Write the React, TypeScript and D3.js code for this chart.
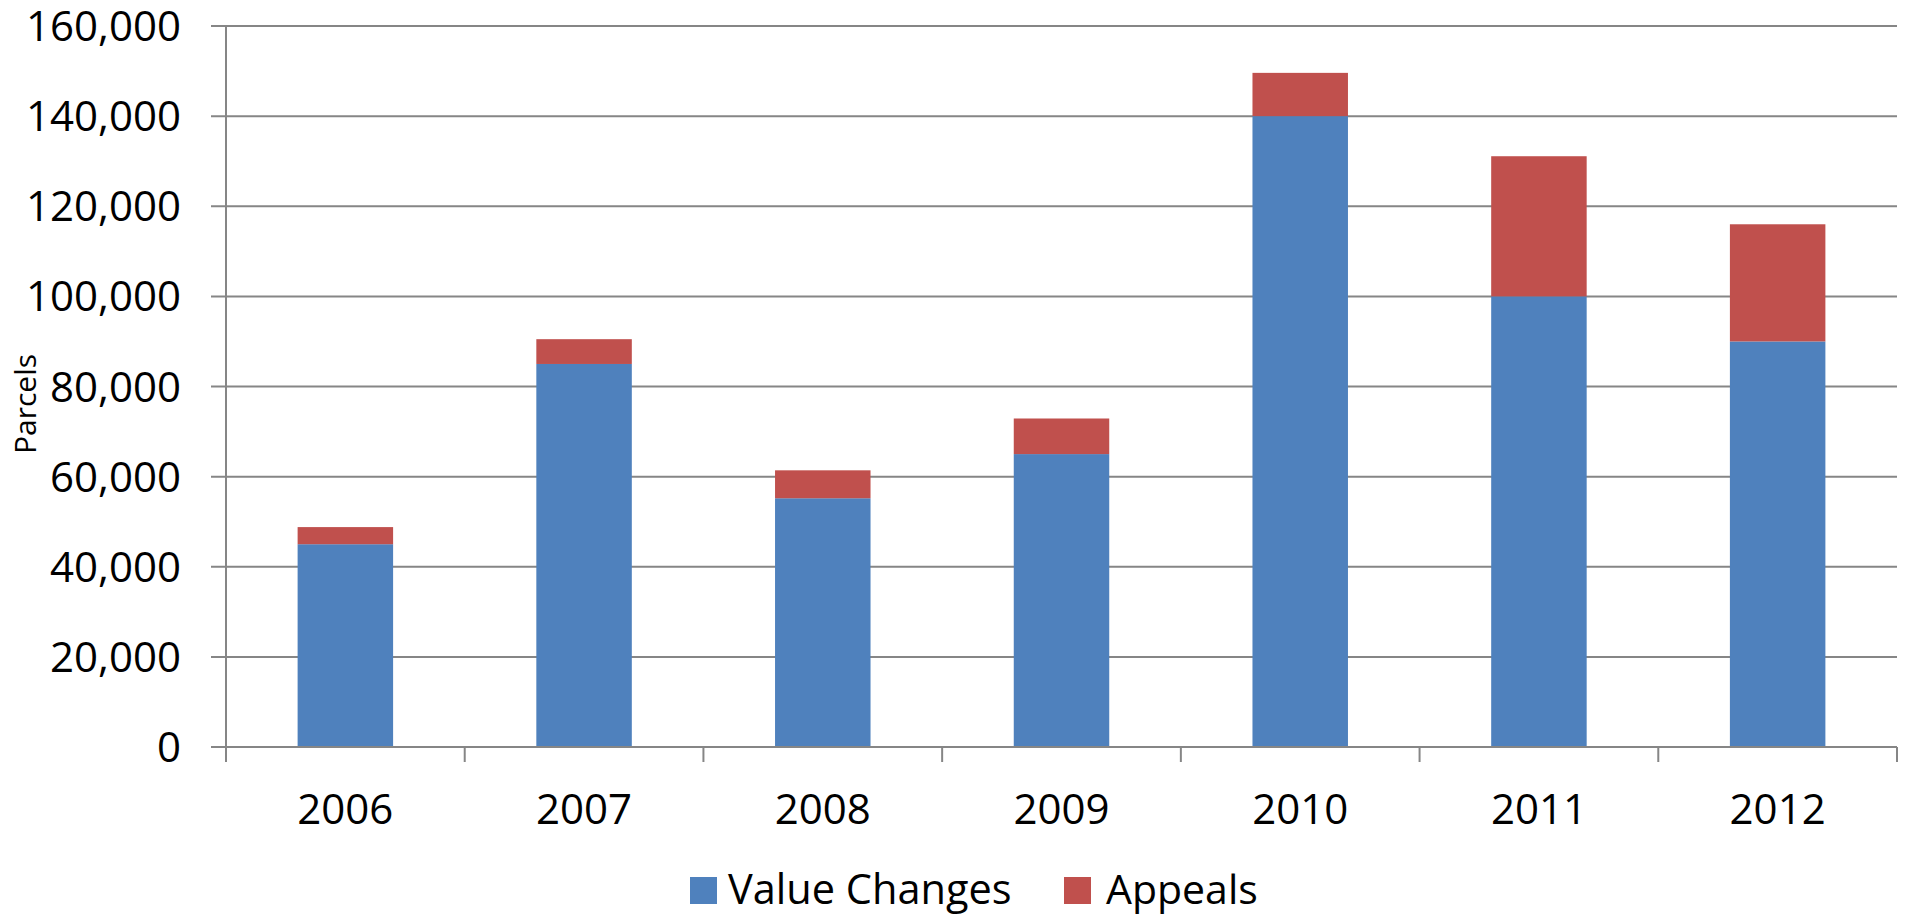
import React from "react";
import * as d3 from "d3";

const years = ["2006", "2007", "2008", "2009", "2010", "2011", "2012"];
const valueChanges = [45000, 85000, 55200, 65000, 140000, 100000, 90000];
const appeals = [3800, 5500, 6200, 7900, 9600, 31100, 26000];
const yTicks = [0, 20000, 40000, 60000, 80000, 100000, 120000, 140000, 160000];
const seriesNames = ["Value Changes", "Appeals"];
const colors = ["#4F81BD", "#C0504D"];

const W = 1906;
const H = 914;
const left = 226;
const right = 1897;
const top = 26;
const bottom = 747;
const FONT = "'Open Sans', sans-serif";

export default function App() {
  const x = d3.scaleBand<string>().domain(years).range([left, right]).paddingInner(0.6).paddingOuter(0.3);
  const xb = d3.scaleBand<string>().domain(years).range([left, right]);
  const y = d3.scaleLinear().domain([0, 160000]).range([bottom, top]);
  const fmt = d3.format(",");

  const rows = years.map((yr, i) => ({ year: yr, v: valueChanges[i], a: appeals[i] }));
  const stack = d3.stack<any>().keys(["v", "a"])(rows);

  const gridColor = "#868686";

  return (
    <div style={{ position: "absolute", left: 0, top: 0 }}>
      <svg width={W} height={H} style={{ display: "block", background: "#fff" }}>
        {yTicks.map((t) => (
          <line key={t} x1={left - 15} x2={right} y1={y(t)} y2={y(t)} stroke={gridColor} strokeWidth={2} />
        ))}
        {stack.map((s, si) => (
          <g key={si} fill={colors[si]}>
            {s.map((d: any, i: number) => (
              <rect
                key={i}
                x={x(years[i])}
                width={x.bandwidth()}
                y={y(d[1])}
                height={y(d[0]) - y(d[1])}
              />
            ))}
          </g>
        ))}
        <line x1={left} x2={left} y1={top} y2={bottom + 15} stroke={gridColor} strokeWidth={2} />
        <line x1={left - 15} x2={right} y1={bottom} y2={bottom} stroke={gridColor} strokeWidth={2} />
        {years.map((yr) => (
          <line key={yr} x1={(xb(yr) as number) + xb.bandwidth()} x2={(xb(yr) as number) + xb.bandwidth()} y1={bottom} y2={bottom + 15} stroke={gridColor} strokeWidth={2} />
        ))}
        {yTicks.map((t) => (
          <text key={t} x={181} y={y(t) + 15} textAnchor="end" fontFamily={FONT} fontSize={42} fill="#000">
            {fmt(t)}
          </text>
        ))}
        {years.map((yr) => (
          <text key={yr} x={(xb(yr) as number) + xb.bandwidth() / 2} y={824} textAnchor="middle" fontFamily={FONT} fontSize={42} fill="#000">
            {yr}
          </text>
        ))}
        <text transform="translate(36,404) rotate(-90)" textAnchor="middle" fontFamily={FONT} fontSize={30} fill="#000">
          Parcels
        </text>
        <rect x={690} y={877} width={27} height={27} fill={colors[0]} />
        <text x={728} y={904} fontFamily={FONT} fontSize={41.5} fill="#000">{seriesNames[0]}</text>
        <rect x={1064} y={877} width={27} height={27} fill={colors[1]} />
        <text x={1106} y={904} fontFamily={FONT} fontSize={41} fill="#000">{seriesNames[1]}</text>
      </svg>
    </div>
  );
}
